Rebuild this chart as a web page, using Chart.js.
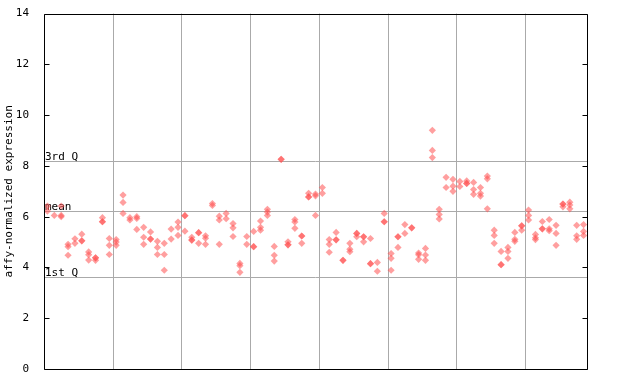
<!DOCTYPE html>
<html><head><meta charset="utf-8">
<script src="https://cdn.jsdelivr.net/npm/chart.js@4.4.0/dist/chart.umd.min.js"></script>
<style>html,body{margin:0;padding:0;background:#fff}</style>
</head><body>
<canvas id="c" width="640" height="384"></canvas>
<script>
// ---- data ----
const yTicks = [0, 2, 4, 6, 8, 10, 12, 14];
const groupBoundaries = [9.5, 19.5, 29.5, 39.5, 49.5, 59.5, 69.5];
const refLabels = ['3rd Q', 'mean', '1st Q'];
const refValues = [8.2, 6.21, 3.61];

const group1 = [[6.42,6.22],[6.05],[6.42,6.05,6.0],[4.91,4.82,4.48],[5.13,4.95],[5.31,5.05,5.05],[4.61,4.5,4.29],[4.38,4.38,4.28],[5.96,5.8,5.8],[5.14,4.87,4.51]];
const group2 = [[5.1,5.0,4.87],[6.85,6.56,6.13],[5.96,5.87],[6.0,5.93,5.5],[5.58,5.19,4.91],[5.4,5.12,5.12],[5.03,4.79,4.51],[4.95,4.51,3.89],[5.51,5.12],[5.79,5.58,5.26]];
const group3 = [[6.04,6.04,5.43],[5.19,5.08,5.08],[5.37,5.37,4.95],[5.25,5.15,4.91],[6.52,6.44],[6.02,5.87,4.91],[6.13,5.92],[5.73,5.56,5.22],[4.16,4.07,3.81],[5.22,4.91]];
const group4 = [[5.42,4.82,4.82],[5.83,5.58,5.47],[6.29,6.18,6.05],[4.83,4.48,4.25],[8.26,8.26],[5.01,4.89,4.89],[5.89,5.79,5.54],[5.24,5.24,4.95],[6.92,6.78,6.78],[6.89,6.82,6.05]];
const group5 = [[7.15,6.92],[5.1,4.91,4.6],[5.38,5.09,5.09],[4.28,4.28],[4.95,4.72,4.62],[5.34,5.34,5.21],[5.21,5.21,5.01],[5.14,4.15,4.15],[4.2,3.85],[6.13,5.8,5.8]];
const group6 = [[4.55,4.36,3.89],[5.21,5.21,4.79],[5.69,5.34],[5.56,5.56],[4.57,4.5,4.32],[4.75,4.49,4.28],[9.4,8.61,8.33],[6.29,6.09,5.91],[7.55,7.15],[7.47,7.2,7.0]];
const group7 = [[7.39,7.19],[7.41,7.31,7.31],[7.35,7.07,6.88],[7.15,6.92,6.81],[7.6,7.49,6.31],[5.47,5.26,4.95],[4.63,4.11,4.11],[4.79,4.63,4.36],[5.38,5.11,5.03],[5.64,5.64,5.47]];
const group8 = [[6.26,6.05,5.87],[5.3,5.17,5.1],[5.81,5.52,5.52],[5.89,5.52,5.45],[5.66,5.34,4.87],[6.5,6.5,6.39],[6.57,6.46,6.31],[5.66,5.25,5.11],[5.69,5.42,5.26]];

const samples = [].concat(group1, group2, group3, group4, group5, group6, group7, group8);
const points = [];
samples.forEach((vals, i) => vals.forEach(v => points.push({x: i, y: v})));

const FONT = 'DejaVu Sans Mono';

const decor = {
  id: 'decor',
  beforeDatasetsDraw(chart) {
    const {ctx, chartArea: a, scales: {x, y}} = chart;
    ctx.save();
    ctx.strokeStyle = '#aaaaaa';
    ctx.lineWidth = 1;
    groupBoundaries.forEach(b => {
      const px = Math.round(x.getPixelForValue(b)) + 0.5;
      ctx.beginPath(); ctx.moveTo(px, a.top); ctx.lineTo(px, a.bottom); ctx.stroke();
    });
    refValues.forEach(v => {
      const py = Math.round(y.getPixelForValue(v)) + 0.5;
      ctx.beginPath(); ctx.moveTo(a.left, py); ctx.lineTo(a.right, py); ctx.stroke();
    });
    ctx.fillStyle = '#000';
    ctx.font = '11px "' + FONT + '"';
    ctx.textAlign = 'left';
    ctx.textBaseline = 'alphabetic';
    refValues.forEach((v, i) => {
      const py = Math.round(y.getPixelForValue(v));
      ctx.fillText(refLabels[i], a.left + 1, py - 1);
    });
    ctx.restore();
  },
  afterDraw(chart) {
    const {ctx, chartArea: a, scales: {y}} = chart;
    ctx.save();
    ctx.strokeStyle = '#000';
    ctx.lineWidth = 1;
    const L = Math.round(a.left) + 0.5, R = Math.round(a.right) + 0.5;
    const T = Math.round(a.top) + 0.5, B = Math.round(a.bottom) + 0.5;
    ctx.beginPath();
    ctx.moveTo(L, T); ctx.lineTo(R, T); ctx.lineTo(R, B); ctx.lineTo(L, B); ctx.closePath();
    ctx.stroke();
    yTicks.forEach(t => {
      const py = Math.round(y.getPixelForValue(t)) + 0.5;
      ctx.beginPath();
      ctx.moveTo(L, py); ctx.lineTo(L + 5, py);
      ctx.moveTo(R, py); ctx.lineTo(R - 5, py);
      ctx.stroke();
    });
    ctx.restore();
  }
};

new Chart(document.getElementById('c'), {
  type: 'scatter',
  data: {
    datasets: [{
      data: points,
      pointStyle: 'rectRot',
      pointRadius: 3.6,
      pointHoverRadius: 3.6,
      backgroundColor: 'rgba(255,80,80,0.55)',
      borderWidth: 0,
      borderColor: 'rgba(0,0,0,0)'
    }]
  },
  options: {
    responsive: false,
    animation: false,
    devicePixelRatio: 1,
    layout: {padding: {left: 0, right: 53, top: 13, bottom: 15}},
    plugins: {legend: {display: false}, tooltip: {enabled: false}},
    scales: {
      x: {
        type: 'linear', min: -0.5, max: 78.5,
        ticks: {display: false},
        grid: {display: false},
        border: {display: false},
        afterFit(s) { s.height = 0; }
      },
      y: {
        min: 0, max: 14,
        afterBuildTicks(s) { s.ticks = yTicks.map(v => ({value: v})); },
        ticks: {color: '#000', padding: 7, font: {family: FONT, size: 11}},
        grid: {display: false},
        border: {display: false},
        title: {display: true, text: 'affy-normalized expression', color: '#000', font: {family: FONT, size: 11}, padding: {top: 3, bottom: 0}},
        afterFit(s) { s.width = 44; }
      }
    }
  },
  plugins: [decor]
});
</script>
</body></html>
